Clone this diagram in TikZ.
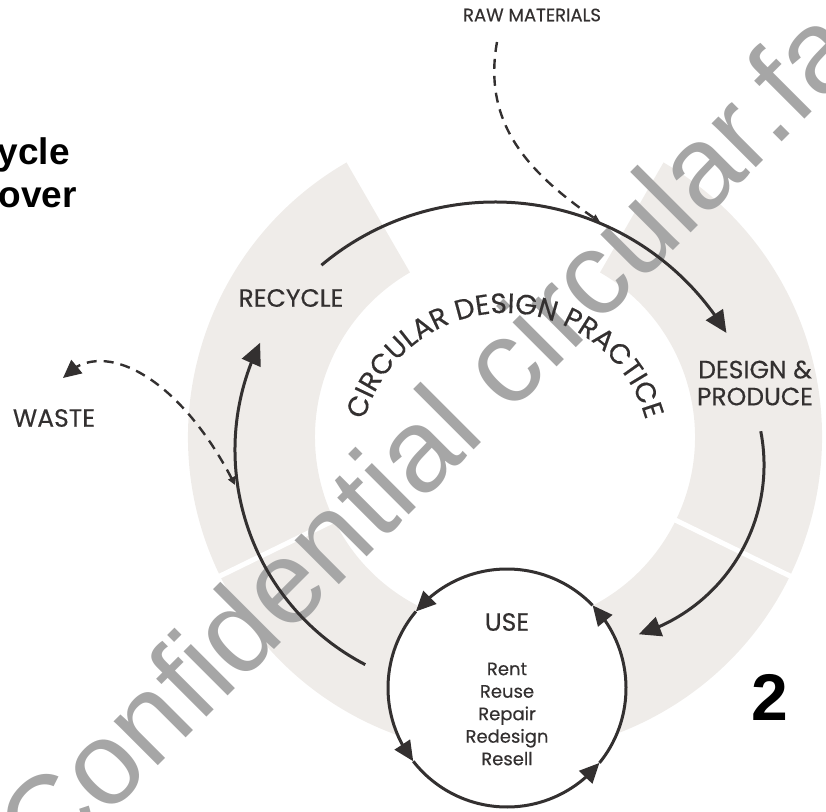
\documentclass[tikz,border=0pt]{standalone}
\usepackage{fontspec}
\setmainfont{Poppins}[FakeBold=0.35]
\newfontfamily\arialfont{Liberation Sans}
\usetikzlibrary{arrows.meta, bending, calc, decorations.text}

\definecolor{ink}{RGB}{51,48,48}
\definecolor{ringgrey}{RGB}{239,236,233}
\definecolor{markgrey}{RGB}{166,166,166}

\begin{document}
\begin{tikzpicture}[x=1pt, y=1pt]
\tikzstyle{stagetext}=[text=ink, font=\fontsize{25}{27}\selectfont, align=center, inner sep=0pt]
\tikzstyle{flowarrow}=[draw=ink, line width=3pt, -{Triangle[length=22pt, width=20pt]}]
\tikzstyle{usering}=[draw=ink, line width=3pt, -{Triangle[length=20pt, width=18pt]}]
\tikzstyle{dashflow}=[draw=ink, line width=2.4pt, dash pattern=on 10pt off 7pt]

\useasboundingbox (0,0) rectangle (826,811);
\clip (0,0) rectangle (826,811);

\coordinate (hub) at (505,374);

% grey ring, open at the top
\fill[ringgrey] ($(hub)+(120:317)$) arc[start angle=120, end angle=420, radius=317]
  -- ($(hub)+(60:190)$) arc[start angle=60, end angle=-240, radius=190] -- cycle;
\foreach \a in {206,334}
  \draw[white, line width=5pt] ($(hub)+(\a:185)$) -- ($(hub)+(\a:322)$);

\node[rotate=45, anchor=base west, inner sep=0pt, text=markgrey,
  font=\arialfont\fontsize{118}{118}\selectfont] (mark) at (46,-67) {Confidential circular.fa};

% use loop
\node[circle, fill=white, minimum size=238pt, inner sep=0pt, outer sep=0pt] (use) at (507,123) {};
\foreach \s/\e in {-39/44, 44/140, 140/218, 218/321}
  \draw[usering] (use.\s) arc[start angle=\s, end angle=\e, radius=119];

% main cycle
\coordinate (c1) at (495,339);
\coordinate (c2) at (587,346);
\coordinate (c3) at (477,361);
\coordinate (recycle-out) at ($(c1)+(130:270)$);
\coordinate (design-out) at ($(c2)+(11:177)$);
\coordinate (use-out) at ($(c3)+(242.5:242)$);
\draw[flowarrow] (recycle-out) arc[start angle=130, end angle=31, radius=270];
\draw[flowarrow] (design-out) arc[start angle=11, end angle=-73, radius=177];
\draw[flowarrow] (use-out) arc[start angle=242.5, end angle=153.7, radius=242];

% raw materials in, waste out
\coordinate (raw-in) at (497,769);
\coordinate (raw-join) at (600,589);
\coordinate (waste-join) at (235,326);
\coordinate (waste-tip) at (63,433);
\draw[dashflow, -{Triangle[length=8pt, width=7pt]}] (raw-in) .. controls (482,686) and (530,636) .. (raw-join);
\draw[dashflow, {Triangle[length=8pt, width=7pt]}-{Triangle[length=18pt, width=17pt]}]
  (waste-join) .. controls (180,436) and (100,476) .. (waste-tip);

\node[stagetext, font=\fontsize{18}{20}\selectfont] (raw) at (532,796) {RAW MATERIALS};
\node[stagetext] (recycle) at (291,513) {RECYCLE};
\node[stagetext] (waste) at (54,393) {WASTE};
\node[stagetext] (design) at (755,428) {DESIGN \&\\PRODUCE};
\node[stagetext] (usetitle) at (507,189) {USE};
\node[stagetext, font=\fontsize{18}{22.5}\selectfont] (modes) at (507,97) {Rent\\Reuse\\Repair\\Redesign\\Resell};

\path[decorate, decoration={text along path, text align=center, text color=ink,
  text={|\fontsize{28}{28}\selectfont|CIRCULAR DESIGN PRACTICE}}]
  ($(505,352)+(170:146)$) arc[start angle=170, end angle=10, radius=146];

\node[anchor=base east, inner sep=0pt, font=\arialfont\bfseries\fontsize{37}{43}\selectfont] (ycle) at (70,646) {ycle};
\node[anchor=base east, inner sep=0pt, font=\arialfont\bfseries\fontsize{37}{43}\selectfont] (over) at (77,603) {over};
\node[inner sep=0pt, font=\arialfont\bfseries\fontsize{66}{66}\selectfont] (num) at (770,114) {2};
\end{tikzpicture}
\end{document}
